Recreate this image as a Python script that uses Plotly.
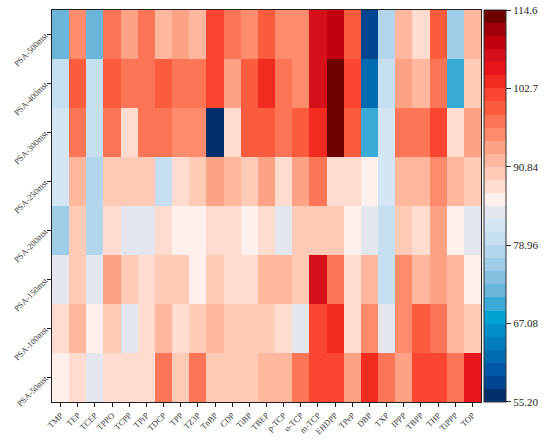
import plotly.graph_objs as go

compounds = ['TMP', 'TEP', 'TCEP', 'TPPO', 'TCPP', 'TPrP', 'TDCP', 'TPP', 'TZ3P',
             'TnBP', 'CDP', 'TiBP', 'TBEP', 'p-TCP', 'o-TCP', 'm-TCP', 'EHDPP',
             'TPeP', 'DBP', 'TXP', 'IPPP', 'TBPP', 'THP', 'TiPPP', 'TOP']

doses = ['PSA-500mst', 'PSA-400mst', 'PSA-300mst', 'PSA-250mst',
         'PSA-200mst', 'PSA-150mst', 'PSA-100mst', 'PSA-50mst']

psa_500 = [72.0, 95.8, 72.0, 97.8, 93.8, 97.8, 91.8, 93.8, 91.8, 101.7, 97.8, 95.8, 99.8,
           95.8, 95.8, 107.7, 109.6, 99.8, 58.2, 78.0, 91.8, 87.9, 99.8, 76.0, 91.8]
psa_400 = [80.0, 99.8, 80.0, 99.8, 97.8, 97.8, 99.8, 97.8, 97.8, 101.7, 93.8, 99.8, 103.7,
           97.8, 95.8, 107.7, 113.6, 101.7, 62.1, 80.0, 93.8, 91.8, 97.8, 70.0, 89.8]
psa_300 = [81.9, 97.8, 80.0, 97.8, 87.9, 97.8, 97.8, 95.8, 95.8, 56.2, 87.9, 99.8, 99.8,
           97.8, 99.8, 103.7, 113.6, 99.8, 70.0, 81.9, 97.8, 97.8, 101.7, 87.9, 93.8]
psa_250 = [81.9, 91.8, 78.0, 89.8, 89.8, 89.8, 80.0, 87.9, 89.8, 93.8, 91.8, 89.8, 93.8,
           87.9, 93.8, 97.8, 87.9, 87.9, 85.9, 81.9, 91.8, 91.8, 95.8, 91.8, 89.8]
psa_200 = [76.0, 89.8, 78.0, 87.9, 83.9, 83.9, 87.9, 85.9, 85.9, 87.9, 87.9, 85.9, 87.9,
           83.9, 89.8, 89.8, 89.8, 85.9, 83.9, 80.0, 89.8, 87.9, 93.8, 85.9, 83.9]
psa_150 = [83.9, 89.8, 83.9, 93.8, 89.8, 87.9, 89.8, 89.8, 85.9, 89.8, 87.9, 87.9, 91.8,
           91.8, 89.8, 107.7, 97.8, 87.9, 91.8, 80.0, 95.8, 91.8, 93.8, 91.8, 85.9]
psa_100 = [87.9, 91.8, 85.9, 89.8, 83.9, 87.9, 91.8, 87.9, 89.8, 91.8, 89.8, 89.8, 89.8,
           87.9, 83.9, 101.7, 103.7, 87.9, 95.8, 83.9, 95.8, 99.8, 97.8, 91.8, 89.8]
psa_50 = [85.9, 87.9, 83.9, 87.9, 87.9, 87.9, 97.8, 89.8, 97.8, 89.8, 89.8, 89.8, 91.8,
          91.8, 97.8, 101.7, 101.7, 93.8, 103.7, 97.8, 93.8, 101.7, 101.7, 97.8, 105.7]

z_min, z_max = 55.2, 114.6
cbar_ticks = [55.20, 67.08, 78.96, 90.84, 102.7, 114.6]
cbar_labels = ['55.20', '67.08', '78.96', '90.84', '102.7', '114.6']

# 30 stepped colours, low -> high
palette = ['#002f6c', '#004590', '#0058a6', '#006bb0', '#007ebc', '#008fc6',
           '#00a2d2', '#3aaad6', '#6ab6da', '#86c0e0', '#9fcce6', '#b4d6ec',
           '#c5def0', '#d4e6f4', '#e4e6ee',
           '#fff0ee', '#ffdccf', '#ffcbb7', '#ffb89e', '#fea285', '#fe8b6c',
           '#fd7557', '#fc5c3e', '#fa4630', '#f32a1f', '#e8151d', '#d5101a',
           '#c3000f', '#a00008', '#6e0000']

n = len(palette)
colorscale = []
for i, c in enumerate(palette):
    colorscale.append([i / n, c])
    colorscale.append([(i + 1) / n, c])

z = [psa_500, psa_400, psa_300, psa_250, psa_200, psa_150, psa_100, psa_50]

# keep end ticks just inside the range so plotly doesn't drop them
tick_pos = [min(max(t, z_min + 0.001), z_max - 0.001) for t in cbar_ticks]

fig = go.Figure()
fig.add_trace(go.Heatmap(
    z=z,
    x=compounds,
    y=doses,
    zmin=z_min,
    zmax=z_max,
    colorscale=colorscale,
    colorbar=dict(
        tickvals=tick_pos,
        ticktext=cbar_labels,
        thickness=22,
        len=1,
        lenmode='fraction',
        y=0.5,
        yanchor='middle',
        x=1.007,
        xanchor='left',
        xpad=0,
        ypad=0,
        outlinecolor='#333',
        outlinewidth=1,
        ticks='outside',
        ticklen=5,
        tickcolor='#333',
        tickfont=dict(family='Liberation Serif', size=11, color='#222'),
    ),
    hovertemplate='%{y} %{x}: %{z}<extra></extra>',
))

fig.update_layout(
    width=550,
    height=442,
    margin=dict(l=52, r=69, t=10, b=40, autoexpand=False),
    plot_bgcolor='white',
    paper_bgcolor='white',
    font=dict(family='Liberation Serif', size=8, color='#333'),
)

fig.update_xaxes(
    tickangle=-45,
    automargin=False,
    showline=True, linecolor='#222', linewidth=1.2, mirror=True,
    ticks='outside', ticklen=4, tickcolor='#222',
    tickfont=dict(size=8.5),
)
fig.update_yaxes(
    autorange='reversed',
    automargin=False,
    tickangle=-45,
    showline=True, linecolor='#222', linewidth=1.2, mirror=True,
    ticks='outside', ticklen=4, tickcolor='#222',
    tickfont=dict(size=8.5),
)

# drop the default body margin so the figure fills the window exactly
fig.write_html("out.html", config={'displayModeBar': False},
               post_script="document.body.style.margin='0';")
